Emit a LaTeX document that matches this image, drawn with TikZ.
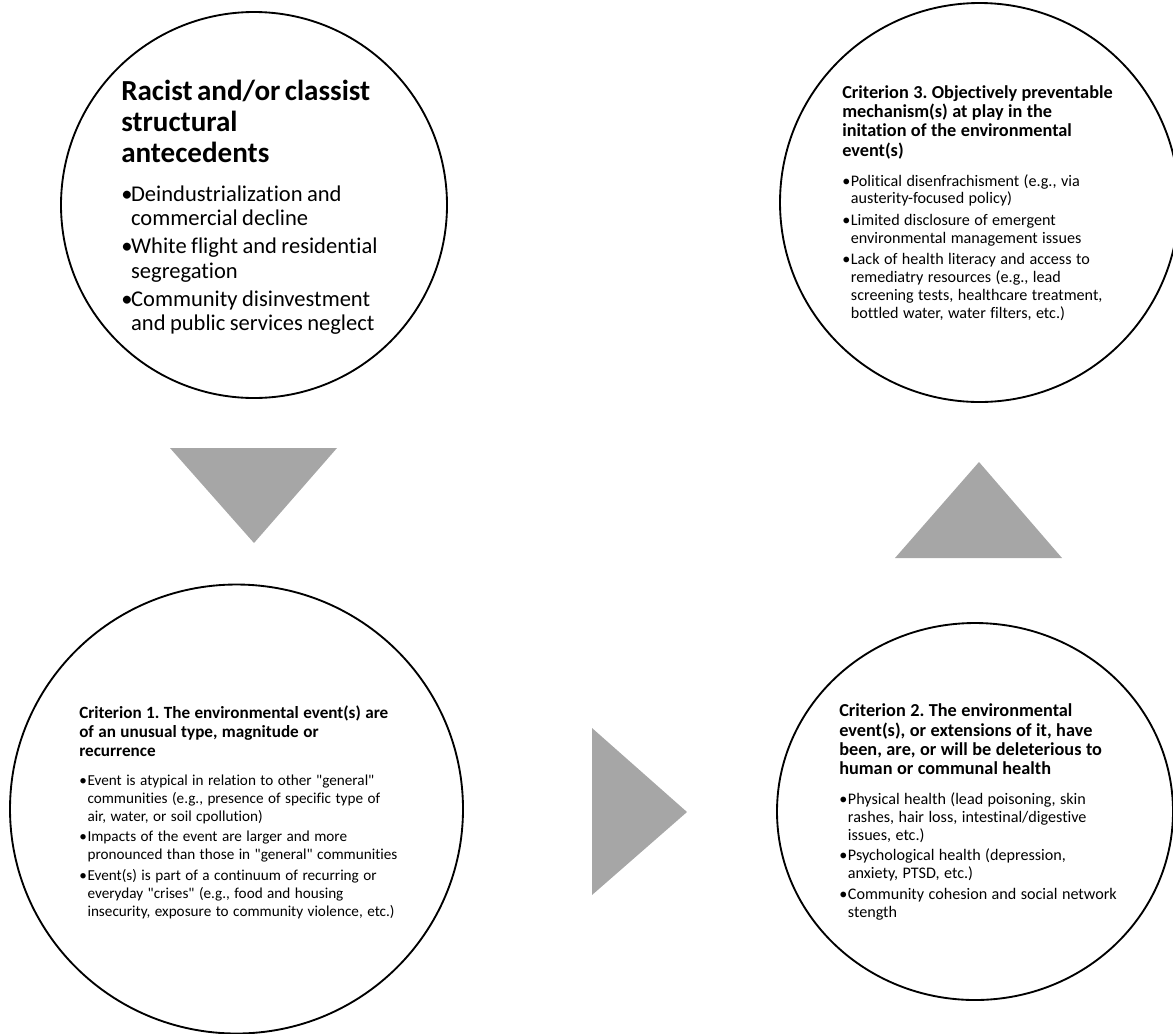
\documentclass[tikz,border=0pt]{standalone}
\usepackage{fontspec}
\setmainfont{Carlito}[Ligatures=NoCommon]
\usepackage{tikz}
\definecolor{wedgegray}{HTML}{A6A6A6}
\newcommand{\bul}[1]{\hangindent=#1\hangafter=1\noindent\makebox[#1][l]{\textbullet}}
\newcommand{\qq}{\textquotedbl}
\tikzset{
  ring/.style={line width=1.4pt},
  wedge/.style={fill=wedgegray},
  headtext/.style={anchor=base west, inner sep=0pt, text width=280pt, font=\bfseries\frenchspacing},
  itemtext/.style={anchor=base west, inner sep=0pt, text width=280pt, font=\frenchspacing}
}
\begin{document}
\begin{tikzpicture}[x=0.75pt,y=-0.75pt]
\useasboundingbox (0,0) rectangle (1173,1033);

% circles
\coordinate (O0) at (254,205);
\coordinate (O3) at (979.5,202.5);
\coordinate (O1) at (236.5,809);
\coordinate (O2) at (975,811.5);

\draw[ring] (O0) ellipse [x radius=193, y radius=193];
\draw[ring] (O3) ellipse [x radius=199.5, y radius=199.5];
\draw[ring] (O1) ellipse [x radius=226.5, y radius=224.5];
\draw[ring] (O2) ellipse [x radius=198, y radius=188.5];

% triangles
\coordinate (A) at (170,448);
\coordinate (B) at (337,448);
\coordinate (C) at (254,543);

\coordinate (D) at (979,462);
\coordinate (E) at (895,558);
\coordinate (F) at (1062,558);

\coordinate (G) at (592,728);
\coordinate (H) at (592,895);
\coordinate (I) at (687,812);

\fill[wedge] (A) -- (B) -- (C) -- cycle;
\fill[wedge] (D) -- (E) -- (F) -- cycle;
\fill[wedge] (G) -- (H) -- (I) -- cycle;

% antecedents
\node[headtext] (h0) at (121,100) {\raggedright\fontsize{21.8}{23.25}\selectfont
  Racist and/or classist\\ structural\\ antecedents\par};
\node[itemtext] (b0) at (121,201) {\raggedright\fontsize{16.9}{18.4}\selectfont\setlength{\parskip}{2.6pt}%
  \bul{7.4pt}Deindustrialization and\newline commercial decline\par
  \bul{7.4pt}White flight and residential\newline segregation\par
  \bul{7.4pt}Community disinvestment\newline and public services neglect\par};

% criterion 3
\node[headtext] (h3) at (842,98.5) {\raggedright\fontsize{13.7}{14.4}\selectfont
  Criterion 3. Objectively preventable\\ mechanism(s) at play in the\\ initation of the environmental\\ event(s)\par};
\node[itemtext] (b3) at (842,186) {\raggedright\fontsize{12.1}{13.4}\selectfont\setlength{\parskip}{2.6pt}%
  \bul{6.5pt}Political disenfrachisment (e.g., via\newline austerity-focused policy)\par
  \bul{6.5pt}Limited disclosure of emergent\newline environmental management issues\par
  \bul{6.5pt}Lack of health literacy and access to\newline remediatry resources (e.g., lead\newline screening tests, healthcare treatment,\newline bottled water, water filters, etc.)\par};

% criterion 1
\node[headtext] (h1) at (79,718.3) {\raggedright\fontsize{12.85}{14.5}\selectfont
  Criterion 1. The environmental event(s) are\\ of an unusual type, magnitude or\\ recurrence\par};
\node[itemtext] (b1) at (79,785) {\raggedright\fontsize{11.4}{13.5}\selectfont\setlength{\parskip}{2.2pt}%
  \bul{6.2pt}Event is atypical in relation to other \qq general\qq\newline communities (e.g., presence of specific type of\newline air, water, or soil cpollution)\par
  \bul{6.2pt}Impacts of the event are larger and more\newline pronounced than those in \qq general\qq\ communities\par
  \bul{6.2pt}Event(s) is part of a continuum of recurring or\newline everyday \qq crises\qq\ (e.g., food and housing\newline insecurity, exposure to community violence, etc.)\par};

% criterion 2
\node[headtext] (h2) at (839,716.7) {\raggedright\fontsize{13.7}{14.5}\selectfont
  Criterion 2. The environmental\\ event(s), or extensions of it, have\\ been, are, or will be deleterious to\\ human or communal health\par};
\node[itemtext] (b2) at (839,804) {\raggedright\fontsize{12.1}{13.5}\selectfont\setlength{\parskip}{2.2pt}%
  \bul{6.5pt}Physical health (lead poisoning, skin\newline rashes, hair loss, intestinal/digestive\newline issues, etc.)\par
  \bul{6.5pt}Psychological health (depression,\newline anxiety, PTSD, etc.)\par
  \bul{6.5pt}Community cohesion and social network\newline stength\par};

\end{tikzpicture}
\end{document}
